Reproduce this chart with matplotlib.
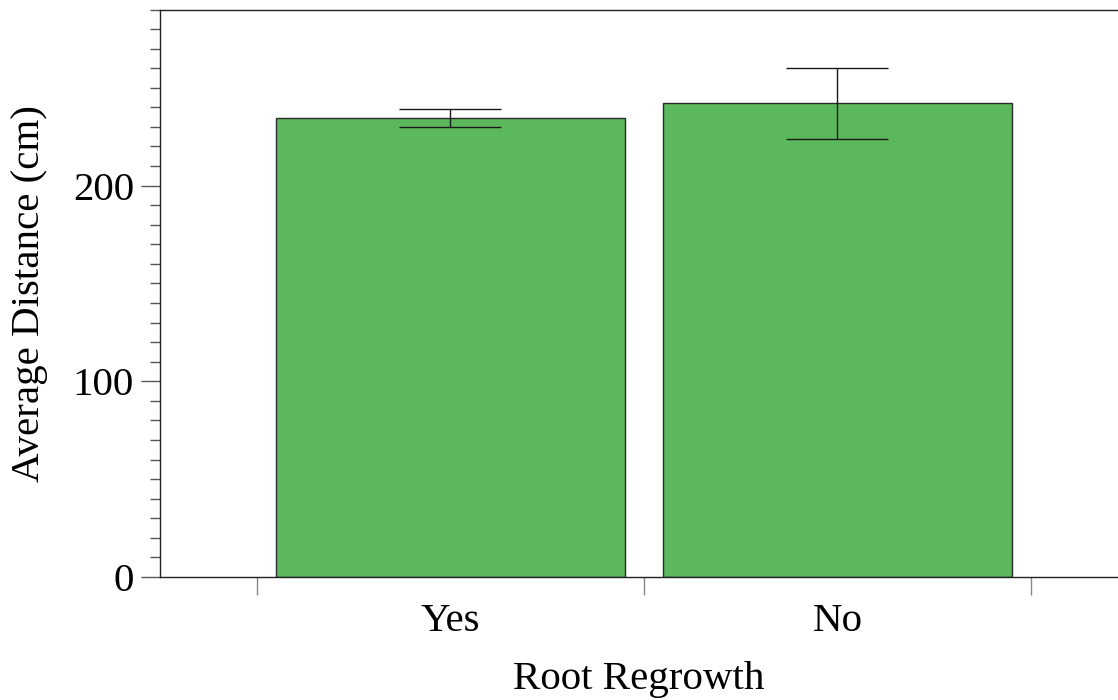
import matplotlib
matplotlib.use("Agg")
import matplotlib.pyplot as plt
from matplotlib.ticker import MultipleLocator, FixedLocator, NullFormatter

# mean distance per regrowth group, with error half-widths
groups = ["Yes", "No"]
means = [234.6, 242.0]
errors = [4.8, 18.0]

plt.rcParams['font.family'] = ['Liberation Serif', 'DejaVu Serif']

fig = plt.figure(figsize=(11.18, 7.0), dpi=100)
ax = fig.add_axes([160 / 1118, 123 / 700, 958 / 1118, 567.5 / 700])

x = list(range(len(groups)))
ax.bar(x, means, width=0.9, color="#5cb85c", edgecolor="#2a2a2a", linewidth=1.0, zorder=2)
ax.errorbar(x, means, yerr=errors, fmt="none", ecolor="#1a1a1a", elinewidth=1.0,
            capsize=37, capthick=1.0, zorder=3)

ax.set_xlim(-0.7506, 1.7248)
ax.set_ylim(0, 290)

# y axis: labelled every 100, minor marks every 10
ax.yaxis.set_major_locator(MultipleLocator(100))
ax.yaxis.set_minor_locator(MultipleLocator(10))
ax.tick_params(axis="y", which="major", length=13.7, width=1, color="#555555",
               labelsize=29.5, pad=5)
ax.tick_params(axis="y", which="minor", length=7.2, width=1, color="#555555")

# x axis: marks sit between groups, names sit under the bars
ax.xaxis.set_major_locator(FixedLocator([-0.5, 0.5, 1.5]))
ax.xaxis.set_major_formatter(NullFormatter())
ax.xaxis.set_minor_locator(FixedLocator(x))
ax.set_xticklabels(groups, minor=True)
ax.tick_params(axis="x", which="major", length=13, width=1, color="#888888")
ax.tick_params(axis="x", which="minor", length=0, labelsize=29.5, pad=19)

ax.spines["right"].set_visible(False)
for side in ["left", "bottom", "top"]:
    ax.spines[side].set_linewidth(1.0)
    ax.spines[side].set_color("#222222")

ax.set_xlabel("Root Regrowth", fontsize=29.5)
ax.set_ylabel("Average Distance (cm)", fontsize=29.5)
ax.xaxis.label.set_va("center")
ax.yaxis.label.set_va("center")
ax.xaxis.set_label_coords(0.5, -(680 - 577) / 567.5)
ax.yaxis.set_label_coords(-(160 - 30) / 958, 0.5)

fig.savefig("out.png", dpi=100)
